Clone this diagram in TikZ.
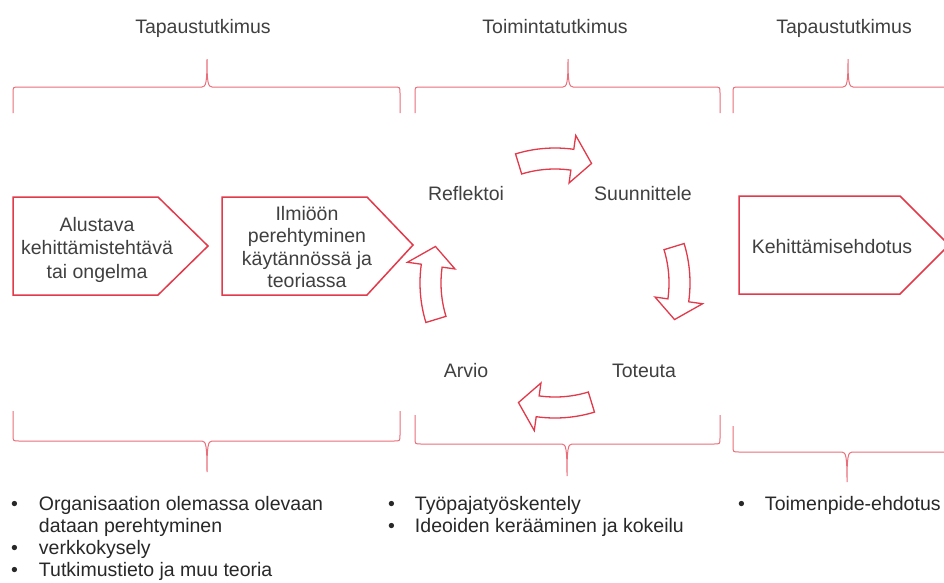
\documentclass[tikz,border=0pt]{standalone}
\usepackage{fontspec}
\setmainfont{Liberation Sans}
\definecolor{boxred}{RGB}{226,58,74}
\definecolor{bracered}{RGB}{234,110,122}
\definecolor{txtgray}{RGB}{64,64,64}
\definecolor{bultxt}{RGB}{40,40,40}
\newcommand{\drawBrace}[8]{%
  % #1 name, #2 x1, #3 xm, #4 x2, #5 yend, #6 yh, #7 ytip, #8 sign
  \draw[bracel] (#2,#5) -- (#2,{#6+6*#8}) .. controls (#2,#6) .. ({#2+6},#6)
    -- ({#3-5},#6) .. controls ({#3-1},#6) and (#3,{#6-5*#8}) .. (#3,#7)
    .. controls (#3,{#6-5*#8}) and ({#3+1},#6) .. ({#3+5},#6)
    -- ({#4-6},#6) .. controls (#4,#6) .. (#4,{#6+6*#8}) -- (#4,#5);
  \coordinate (#1) at (#3,#7);
}
\newcommand{\cycleArrow}[2]{%
  \draw[arr,shift={(555,283)}] ({#2+17}:135pt) arc[start angle={#2+17}, end angle={#2-8}, radius=135pt]
    -- ({#2-8}:149pt) -- ({#2-17}:125pt) -- ({#2-8}:101pt) -- ({#2-8}:114pt)
    arc[start angle={#2-8}, end angle={#2+17}, radius=114pt] -- cycle;
  \coordinate (#1) at ([shift={(555,283)}]#2:125pt);
}
\begin{document}
\begin{tikzpicture}[x=1pt,y=-1pt,
  every node/.style={inner sep=0pt, outer sep=0pt, text=txtgray,
    font=\fontsize{19.5}{23}\selectfont},
  shapeline/.style={draw=boxred, line width=1.5pt, line join=miter, fill=white},
  bracel/.style={draw=bracered, line width=1pt},
  arr/.style={draw=boxred, line width=1.3pt, line join=miter, fill=white},
  bullets/.style={anchor=base west, text=bultxt}
]
\useasboundingbox (0,0) rectangle (944,582);
\fill[white] (0,0) rectangle (944,582);

% titles
\node[anchor=base] (t1) at (203,33) {Tapaustutkimus};
\node[anchor=base] (t2) at (555,33) {Toimintatutkimus};
\node[anchor=base] (t3) at (844,33) {Tapaustutkimus};

% top braces
\drawBrace{tb1}{13}{207}{400}{113}{87}{59}{1}
\drawBrace{tb2}{415}{568}{720}{113}{87}{59}{1}
\drawBrace{tb3}{733}{848}{963}{113}{87}{59}{1}

% bottom braces
\drawBrace{bb1}{13}{207}{400}{411}{441}{472}{-1}
\drawBrace{bb2}{415}{567}{720}{415}{444}{476}{-1}
\drawBrace{bb3}{733}{847}{961}{426}{452}{482}{-1}

% pentagon boxes
\draw[shapeline] (13,197) -- (158,197) -- (208,246) -- (158,295) -- (13,295) -- cycle;
\draw[shapeline] (222,197) -- (367,197) -- (413,245) -- (367,295) -- (222,295) -- cycle;
\draw[shapeline] (739,196) -- (900,196) -- (949,245) -- (900,294) -- (739,294) -- cycle;

\node[align=center, font=\fontsize{19.5}{23.5}\selectfont] (b1) at (97,249.5)
  {Alustava\\kehittämistehtävä\\tai ongelma};
\node[align=center, font=\fontsize{19.5}{22.5}\selectfont] (b2) at (307,247)
  {Ilmiöön\\perehtyminen\\käytännössä ja\\teoriassa};
\node[anchor=base] (b3) at (832,253) {Kehittämisehdotus};

% cycle arrows
\cycleArrow{a1}{90}
\cycleArrow{a2}{0}
\cycleArrow{a3}{-90}
\cycleArrow{a4}{180}

% cycle labels
\node[anchor=base] (c1) at (466,200) {Reflektoi};
\node[anchor=base] (c2) at (643,200) {Suunnittele};
\node[anchor=base] (c3) at (644,377) {Toteuta};
\node[anchor=base] (c4) at (466,377) {Arvio};

% bullet lists
\node[bullets, font=\fontsize{19.5}{22.3}\selectfont] (l1) at (11,510)
  {\begin{tabular}[t]{@{}p{28pt}@{}l@{}}
   • & Organisaation olemassa olevaan\\
     & dataan perehtyminen\\
   • & verkkokysely\\
   • & Tutkimustieto ja muu teoria
   \end{tabular}};
\node[bullets, font=\fontsize{19.5}{22.3}\selectfont] (l2) at (388,510)
  {\begin{tabular}[t]{@{}p{27pt}@{}l@{}}
   • & Työpajatyöskentely\\
   • & Ideoiden kerääminen ja kokeilu
   \end{tabular}};
\node[bullets, font=\fontsize{19.5}{22.3}\selectfont] (l3) at (738,510)
  {\begin{tabular}[t]{@{}p{27pt}@{}l@{}}
   • & Toimenpide-ehdotus
   \end{tabular}};
\end{tikzpicture}
\end{document}
